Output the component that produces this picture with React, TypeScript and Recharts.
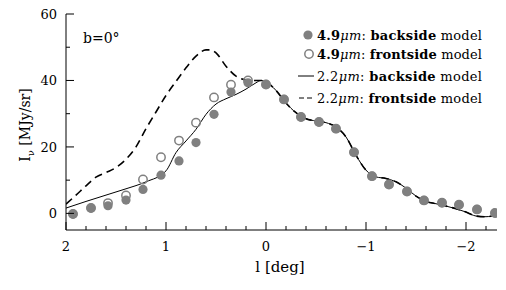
import React from "react";
import { ComposedChart, Line, Scatter, XAxis, YAxis } from "recharts";

// galactic longitude of the 4.9um samples
const lon49 = [1.93, 1.75, 1.58, 1.4, 1.23, 1.05, 0.87, 0.7, 0.52, 0.35, 0.18, 0.0, -0.18, -0.35, -0.53, -0.7, -0.88, -1.06, -1.23, -1.41, -1.58, -1.76, -1.93, -2.11, -2.29];
const back49 = [-0.2, 1.6, 2.3, 4.0, 7.2, 11.5, 15.8, 21.3, 29.8, 36.5, 39.3, 38.8, 34.3, 29.0, 27.5, 25.5, 18.4, 11.2, 8.7, 6.6, 3.9, 3.2, 2.6, 1.2, 0.1];
const front49 = [-0.2, 1.6, 3.1, 5.4, 10.2, 16.9, 21.9, 27.3, 34.9, 38.7, 40.0, 38.8, 34.3, 29.0, 27.5, 25.5, 18.4, 11.2, 8.7, 6.6, 3.9, 3.2, 2.6, 1.2, 0.1];

// 2.2um model curves
const lonBack22 = [2.0, 1.8, 1.6, 1.4, 1.2, 1.0, 0.9, 0.8, 0.7, 0.6, 0.5, 0.4, 0.3, 0.2, 0.1, 0.05, 0.0, -0.1, -0.2, -0.3, -0.4, -0.5, -0.6, -0.7, -0.8, -0.9, -1.0, -1.1, -1.2, -1.3, -1.4, -1.5, -1.6, -1.7, -1.8, -1.9, -2.0, -2.1, -2.2, -2.31];
const back22 = [1.6, 3.6, 5.5, 7.4, 9.5, 12.8, 18.3, 21.8, 25.3, 29.8, 32.9, 34.5, 35.8, 37.4, 39.3, 40.0, 39.6, 37.0, 33.2, 30.3, 28.5, 27.8, 27.3, 26.0, 23.0, 17.5, 13.0, 11.0, 10.5, 9.5, 7.6, 5.2, 3.6, 2.9, 2.2, 1.4, 0.4, -0.8, -1.0, -0.4];
const lonFront22 = [2.0, 1.9, 1.8, 1.7, 1.6, 1.5, 1.4, 1.3, 1.2, 1.1, 1.0, 0.9, 0.8, 0.7, 0.6, 0.55, 0.5, 0.4, 0.3, 0.2, 0.1];
const front22 = [2.8, 5.5, 8.3, 10.9, 12.3, 13.8, 16.3, 20.0, 25.5, 30.5, 35.5, 39.7, 43.8, 47.3, 49.2, 49.2, 48.3, 44.3, 41.3, 40.2, 40.0];

const xTicks = [2, 1.8, 1.6, 1.4, 1.2, 1, 0.8, 0.6, 0.4, 0.2, 0, -0.2, -0.4, -0.6, -0.8, -1, -1.2, -1.4, -1.6, -1.8, -2, -2.2];
const yTicks = [0, 10, 20, 30, 40, 50, 60];

const zip = (xs: number[], ys: number[]) => xs.map((l, i) => ({ l, v: ys[i] }));
const backPts = zip(lon49, back49);
const frontPts = zip(lon49, front49);
const backLine = zip(lonBack22, back22);
// frontside curve joins the backside one for l < 0.05
const frontLine = [...zip(lonFront22, front22), ...backLine.filter((p) => p.l <= 0.05)];

const font = "'DejaVu Serif', serif";
const gray = "#808080";
const fmt = (v: number) => (v < 0 ? "\u2212" + Math.abs(v) : String(v));

const BottomTick = ({ x, y, payload }: any) => {
  const major = Number.isInteger(payload.value);
  return (
    <g>
      <line x1={x} y1={y} x2={x} y2={y - (major ? 8 : 4)} stroke="#000" />
      {major && (
        <text x={x} y={y + 21} textAnchor="middle" fontSize={13} fontFamily={font} fill="#000">
          {fmt(payload.value)}
        </text>
      )}
    </g>
  );
};
const TopTick = ({ x, y, payload }: any) => {
  const major = Number.isInteger(payload.value);
  return <line x1={x} y1={y} x2={x} y2={y + (major ? 8 : 4)} stroke="#000" />;
};
const LeftTick = ({ x, y, payload }: any) => {
  const major = payload.value % 20 === 0;
  return (
    <g>
      <line x1={x} y1={y} x2={x + (major ? 8 : 4)} y2={y} stroke="#000" />
      {major && (
        <text x={x - 9} y={y + 5} textAnchor="end" fontSize={13} fontFamily={font} fill="#000">
          {payload.value}
        </text>
      )}
    </g>
  );
};
const RightTick = ({ x, y, payload }: any) => {
  const major = payload.value % 20 === 0;
  return <line x1={x} y1={y} x2={x - (major ? 8 : 4)} y2={y} stroke="#000" />;
};

const FilledDot = ({ cx, cy }: any) => <circle cx={cx} cy={cy} r={4.6} fill={gray} />;
const OpenDot = ({ cx, cy }: any) => <circle cx={cx} cy={cy} r={4.2} fill="none" stroke={gray} strokeWidth={1.5} />;

const legendRows = [
  { y: 35, num: "4.9", side: "frontside", kind: "filled" },
  { y: 54, num: "4.9", side: "frontside", kind: "open" },
  { y: 76, num: "2.2", side: "backside", kind: "solid" },
  { y: 98, num: "2.2", side: "frontside", kind: "dashed" },
];
legendRows[0].side = "backside";

export default function App() {
  return (
    <div style={{ position: "absolute", left: 0, top: 0, width: 506, height: 290, background: "#fff" }}>
      <ComposedChart width={506} height={290} margin={{ top: 14, right: 9, bottom: 0, left: 0 }}>
        <XAxis xAxisId="b" type="number" dataKey="l" domain={[-2.31, 2]} allowDataOverflow reversed
          ticks={xTicks} interval={0} tick={<BottomTick />} tickLine={false} tickSize={0} tickMargin={0}
          height={60} axisLine={{ stroke: "#000" }} />
        <XAxis xAxisId="t" orientation="top" type="number" dataKey="l" domain={[-2.31, 2]} allowDataOverflow reversed
          ticks={xTicks} interval={0} tick={<TopTick />} tickLine={false} tickSize={0} tickMargin={0}
          height={0} axisLine={{ stroke: "#000" }} />
        <YAxis yAxisId="l" type="number" dataKey="v" domain={[-5, 60]} allowDataOverflow
          ticks={yTicks} interval={0} tick={<LeftTick />} tickLine={false} tickSize={0} tickMargin={0}
          width={66} axisLine={{ stroke: "#000" }} />
        <YAxis yAxisId="r" orientation="right" type="number" dataKey="v" domain={[-5, 60]} allowDataOverflow
          ticks={yTicks} interval={0} tick={<RightTick />} tickLine={false} tickSize={0} tickMargin={0}
          width={0} axisLine={{ stroke: "#000" }} />
        <Scatter xAxisId="b" yAxisId="l" data={frontPts} shape={<OpenDot />} isAnimationActive={false} />
        <Scatter xAxisId="b" yAxisId="l" data={backPts} shape={<FilledDot />} isAnimationActive={false} />
        <Line xAxisId="b" yAxisId="l" data={frontLine} dataKey="v" type="monotone" stroke="#000" strokeWidth={1.6}
          strokeDasharray="8 5" dot={false} activeDot={false} isAnimationActive={false} />
        <Line xAxisId="b" yAxisId="l" data={backLine} dataKey="v" type="monotone" stroke="#000" strokeWidth={1}
          dot={false} activeDot={false} isAnimationActive={false} />
      </ComposedChart>
      <svg width={506} height={290} style={{ position: "absolute", left: 0, top: 0, pointerEvents: "none" }}>
        <text x={83} y={43} fontSize={14} fontFamily={font}>b=0°</text>
        <text x={280} y={272} textAnchor="middle" fontSize={15} fontFamily={font}>l [deg]</text>
        <text transform="translate(30,125) rotate(-90)" textAnchor="middle" fontSize={14} fontFamily={font}>
          I<tspan fontSize={10} dy={4}>ν</tspan><tspan dy={-4}> [MJy/sr]</tspan>
        </text>
        {legendRows.map((r) => (
          <g key={r.y}>
            {r.kind === "filled" && <circle cx={308} cy={r.y} r={4.6} fill={gray} />}
            {r.kind === "open" && <circle cx={309} cy={r.y} r={4.2} fill="none" stroke={gray} strokeWidth={1.5} />}
            {r.kind === "solid" && <line x1={298} x2={314} y1={r.y} y2={r.y} stroke="#000" />}
            {r.kind === "dashed" && <line x1={299} x2={315} y1={r.y} y2={r.y} stroke="#000" strokeDasharray="5 3" />}
            <text x={317} y={r.y + 5} fontSize={13} fontFamily={font} textLength={165} lengthAdjust="spacing">
              <tspan fontWeight={r.kind === "filled" || r.kind === "open" ? "bold" : "normal"}>{r.num}</tspan>
              <tspan fontStyle="italic">μm</tspan>: <tspan fontWeight="bold">{r.side}</tspan> model
            </text>
          </g>
        ))}
      </svg>
    </div>
  );
}
